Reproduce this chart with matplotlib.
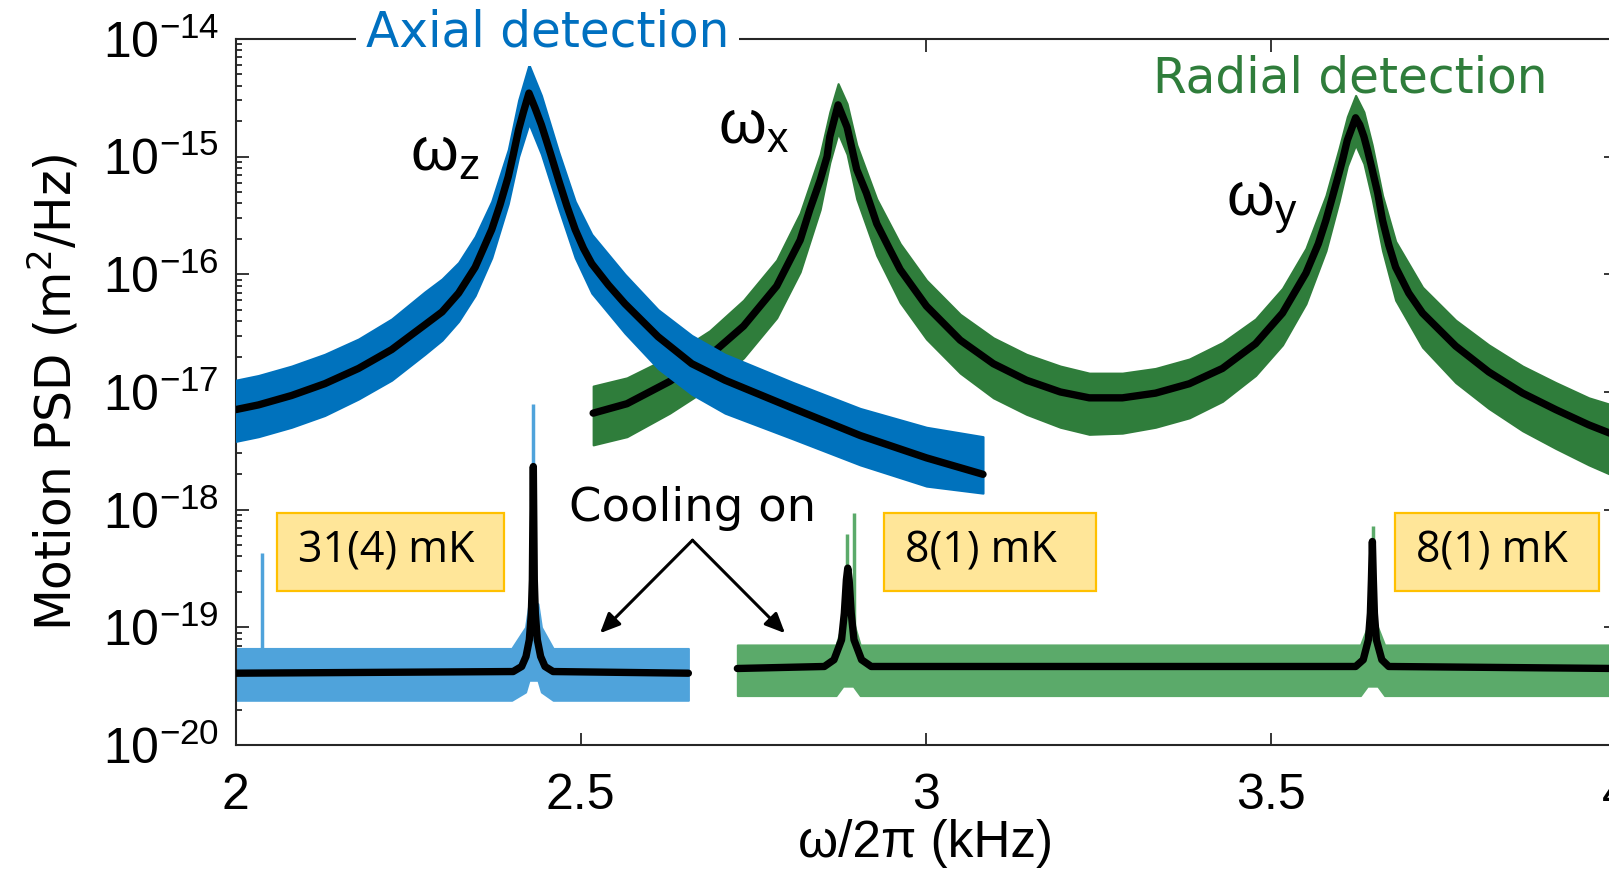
import numpy as np
import matplotlib.pyplot as plt
from matplotlib.patches import Rectangle
from matplotlib.ticker import LogLocator, NullFormatter

plt.rcParams['font.family'] = ['Liberation Sans', 'DejaVu Sans']
plt.rcParams['mathtext.default'] = 'regular'

# frequencies in kHz, PSD values stored as log10(m^2/Hz)

# axial detection, cooling off: fit line and measured band
axial_fit_f = [2.000, 2.033, 2.081, 2.129, 2.178, 2.226, 2.274, 2.299, 2.323, 2.347, 2.371, 2.383,
               2.395, 2.402, 2.410, 2.417, 2.425, 2.434, 2.443, 2.456, 2.468, 2.480, 2.492, 2.504,
               2.516, 2.540, 2.564, 2.612, 2.661, 2.709, 2.808, 2.905, 3.001, 3.083]
axial_fit = [-17.15, -17.11, -17.03, -16.93, -16.80, -16.64, -16.43, -16.32, -16.16, -15.94, -15.62, -15.41,
             -15.17, -14.99, -14.77, -14.62, -14.46, -14.59, -14.73, -14.97, -15.20, -15.42, -15.62, -15.78,
             -15.91, -16.09, -16.25, -16.53, -16.76, -16.90, -17.14, -17.37, -17.56, -17.70]
axial_f = [2.000, 2.033, 2.081, 2.129, 2.178, 2.226, 2.274, 2.299, 2.323, 2.347, 2.371, 2.395, 2.410,
           2.425, 2.443, 2.468, 2.492, 2.516, 2.564, 2.612, 2.661, 2.709, 2.808, 2.905, 3.001, 3.083]
axial_hi = [-16.90, -16.86, -16.78, -16.68, -16.55, -16.38, -16.15, -16.04, -15.90, -15.68, -15.38, -14.94, -14.52,
            -14.22, -14.48, -14.96, -15.38, -15.66, -16.00, -16.30, -16.52, -16.68, -16.92, -17.14, -17.30, -17.38]
axial_lo = [-17.42, -17.38, -17.30, -17.20, -17.06, -16.90, -16.68, -16.56, -16.40, -16.18, -15.86, -15.40, -15.00,
            -14.72, -14.98, -15.44, -15.86, -16.16, -16.50, -16.80, -17.02, -17.18, -17.40, -17.62, -17.80, -17.86]

# radial detection, cooling off
radial_fit_f = [2.518, 2.567, 2.629, 2.687, 2.736, 2.784, 2.818, 2.832, 2.847, 2.857, 2.861, 2.873, 2.886,
                2.900, 2.914, 2.929, 2.948, 2.963, 3.001, 3.050, 3.098, 3.146, 3.195, 3.237, 3.285, 3.333,
                3.382, 3.430, 3.478, 3.517, 3.551, 3.569, 3.580, 3.599, 3.604, 3.611, 3.618, 3.623, 3.629,
                3.635, 3.640, 3.647, 3.655, 3.662, 3.671, 3.681, 3.700, 3.720, 3.768, 3.816, 3.865, 3.913,
                3.961, 4.000]
radial_fit = [-17.18, -17.10, -16.91, -16.69, -16.44, -16.10, -15.71, -15.45, -15.20, -15.00, -14.83, -14.56, -14.75,
              -15.11, -15.31, -15.57, -15.79, -15.96, -16.27, -16.56, -16.76, -16.90, -17.00, -17.05, -17.05, -17.01,
              -16.93, -16.80, -16.59, -16.33, -15.99, -15.74, -15.54, -15.14, -15.03, -14.86, -14.75, -14.67, -14.73,
              -14.83, -14.94, -15.11, -15.31, -15.54, -15.75, -15.94, -16.16, -16.33, -16.61, -16.83, -17.01, -17.15,
              -17.28, -17.37]
radial_f = [2.518, 2.567, 2.629, 2.687, 2.736, 2.784, 2.818, 2.847, 2.861, 2.873, 2.886, 2.900, 2.929, 2.963,
            3.001, 3.050, 3.098, 3.146, 3.195, 3.237, 3.285, 3.333, 3.382, 3.430, 3.478, 3.517, 3.551, 3.580,
            3.599, 3.611, 3.623, 3.635, 3.647, 3.662, 3.681, 3.720, 3.768, 3.816, 3.865, 3.913, 3.961, 4.000]
radial_hi = [-16.95, -16.88, -16.70, -16.48, -16.22, -15.88, -15.48, -14.98, -14.62, -14.38, -14.55, -14.90, -15.36, -15.74,
             -16.05, -16.34, -16.54, -16.68, -16.78, -16.84, -16.84, -16.80, -16.72, -16.58, -16.38, -16.12, -15.78, -15.33,
             -14.93, -14.66, -14.48, -14.62, -14.90, -15.33, -15.72, -16.11, -16.39, -16.60, -16.78, -16.92, -17.05, -17.12]
radial_lo = [-17.45, -17.38, -17.18, -16.96, -16.71, -16.37, -15.98, -15.45, -15.05, -14.80, -14.98, -15.36, -15.84, -16.24,
             -16.55, -16.84, -17.05, -17.19, -17.30, -17.36, -17.35, -17.30, -17.22, -17.08, -16.86, -16.60, -16.25, -15.80,
             -15.38, -15.08, -14.90, -15.06, -15.36, -15.80, -16.22, -16.62, -16.92, -17.14, -17.33, -17.48, -17.62, -17.72]

# axial detection, cooling on
axial_cool_f = [2.000, 2.402, 2.4144, 2.4207, 2.4255, 2.4284, 2.4299, 2.4313,
                2.4327, 2.4342, 2.4371, 2.4419, 2.4482, 2.460, 2.656]
axial_cool_fit = [-19.39, -19.376, -19.333, -19.248, -19.106, -18.880, -18.596, -17.634,
                  -18.596, -18.880, -19.106, -19.248, -19.333, -19.376, -19.39]
axial_cool_band_f = [2.000, 2.400, 2.420, 2.425, 2.438, 2.443, 2.460, 2.656]
axial_cool_hi = [-19.18, -19.18, -19.00, -18.80, -18.80, -19.00, -19.18, -19.18]
axial_cool_lo = [-19.62, -19.62, -19.55, -19.45, -19.45, -19.55, -19.62, -19.62]
axial_cool_spike_f = [2.038, 2.4313]
axial_cool_spike_top = [-18.37, -17.10]

# radial detection, cooling on
radial_cool_f = [2.727, 2.853, 2.867, 2.878, 2.882, 2.885, 2.887, 2.889, 2.892, 2.896, 2.907, 2.921,
                 3.623, 3.634, 3.6415, 3.6444, 3.6459, 3.6473, 3.6487, 3.6502, 3.6531, 3.661, 3.671, 4.000]
radial_cool_fit = [-19.35, -19.333, -19.276, -19.106, -18.880, -18.596, -18.497, -18.596, -18.880, -19.106, -19.276, -19.333,
                   -19.333, -19.276, -19.106, -18.880, -18.596, -18.271, -18.596, -18.880, -19.106, -19.276, -19.333, -19.35]
radial_cool_band_f = [2.727, 2.870, 2.880, 2.895, 2.905, 3.630, 3.640, 3.655, 3.665, 4.000]
radial_cool_hi = [-19.15, -19.15, -18.95, -18.95, -19.15, -19.15, -19.00, -19.00, -19.15, -19.15]
radial_cool_lo = [-19.58, -19.58, -19.50, -19.50, -19.58, -19.58, -19.50, -19.50, -19.58, -19.58]
radial_cool_spike_f = [2.886, 2.896, 3.648]
radial_cool_spike_top = [-18.21, -18.03, -18.14]

temps = ["31(4) mK", "8(1) mK", "8(1) mK"]
yticks_exp = [-20, -19, -18, -17, -16, -15, -14]
xticks = [2, 2.5, 3, 3.5, 4]
xtick_labels = ["2", "2.5", "3", "3.5", "4"]

c_axial = '#0072BD'
c_axial_cool = '#4FA3DB'
c_radial = '#2F7D3B'
c_radial_cool = '#5BAA6A'


def p(v):
    return np.power(10.0, np.array(v))


fig = plt.figure(figsize=(16.09, 8.75), dpi=100)
ax = fig.add_axes([0.1465, 0.1486, 0.8577, 0.8069])

# cooling off: radial first, axial on top
ax.fill_between(radial_f, p(radial_lo), p(radial_hi), color=c_radial, lw=1.5, edgecolor=c_radial, zorder=2)
ax.plot(radial_fit_f, p(radial_fit), color='k', lw=5.3, solid_capstyle='round', zorder=3)
ax.fill_between(axial_f, p(axial_lo), p(axial_hi), color=c_axial, lw=1.5, edgecolor=c_axial, zorder=4)
ax.plot(axial_fit_f, p(axial_fit), color='k', lw=5.3, solid_capstyle='round', zorder=5)

# cooling on
ax.fill_between(axial_cool_band_f, p(axial_cool_lo), p(axial_cool_hi), color=c_axial_cool, lw=1.5,
                edgecolor=c_axial_cool, zorder=2)
ax.vlines(axial_cool_spike_f, 10 ** -19.4, p(axial_cool_spike_top), color=c_axial_cool, lw=2.5, zorder=2)
ax.plot(axial_cool_f, p(axial_cool_fit), color='k', lw=5.3, solid_capstyle='round', zorder=3)

ax.fill_between(radial_cool_band_f, p(radial_cool_lo), p(radial_cool_hi), color=c_radial_cool, lw=1.5,
                edgecolor=c_radial_cool, zorder=2)
ax.vlines(radial_cool_spike_f, 10 ** -19.4, p(radial_cool_spike_top), color=c_radial_cool, lw=2.5, zorder=2)
ax.plot(radial_cool_f, p(radial_cool_fit), color='k', lw=5.3, solid_capstyle='round', zorder=3)

ax.set_xlim(2, 4)
ax.set_yscale('log')
ax.set_ylim(1e-20, 1e-14)
ax.set_xticks(xticks)
ax.set_xticklabels(xtick_labels)
ax.set_xticks([], minor=True)
ax.set_yticks([10.0 ** e for e in yticks_exp])
ax.set_yticklabels(['$10^{%d}$' % e for e in yticks_exp])
ax.yaxis.set_minor_locator(LogLocator(base=10, subs=np.arange(2, 10)))
ax.yaxis.set_minor_formatter(NullFormatter())

for s in ax.spines.values():
    s.set_linewidth(1.5)
    s.set_color('#262626')
ax.tick_params(which='both', direction='in', top=True, right=True, color='#262626', width=1.3)
ax.tick_params(which='major', length=9)
ax.tick_params(which='minor', length=4.5)
ax.tick_params(axis='x', labelsize=36, pad=20)
ax.tick_params(axis='y', labelsize=36, pad=12)

ax.set_xlabel('ω/2π (kHz)', fontsize=37)
ax.xaxis.set_label_coords(0.5, -0.105)
ax.set_ylabel('Motion PSD (m$^2$/Hz)', fontsize=35, family='DejaVu Sans')
ax.yaxis.set_label_coords(-0.112, 0.5)

# detection titles
ax.text(0.2259, 0.989, 'Axial detection', transform=ax.transAxes, ha='center', va='baseline',
        fontsize=35, family='DejaVu Sans', color='#0070C0', zorder=10, clip_on=False,
        bbox=dict(boxstyle='square,pad=0.2', fc='white', ec='none'))
ax.text(0.8078, 0.9235, 'Radial detection', transform=ax.transAxes, ha='center', va='baseline',
        fontsize=35, family='DejaVu Sans', color='#2F7D3B', zorder=10)

# mode labels
ax.text(0.1263, 0.8144, '$ω_z$', transform=ax.transAxes, fontsize=44, va='baseline', zorder=10)
ax.text(0.3495, 0.852, '$ω_x$', transform=ax.transAxes, fontsize=44, va='baseline', zorder=10)
ax.text(0.7176, 0.7507, '$ω_y$', transform=ax.transAxes, fontsize=44, va='baseline', zorder=10)

# cooling arrows
ax.text(0.3313, 0.3173, 'Cooling on', transform=ax.transAxes, ha='center', va='baseline',
        fontsize=33.5, family='DejaVu Sans', zorder=10)
arrow = dict(arrowstyle='-|>,head_length=0.6,head_width=0.27', mutation_scale=20, lw=2.2,
             color='k', shrinkA=0, shrinkB=0)
ax.annotate('', xy=(2.528, 10 ** -19.05), xytext=(2.662, 10 ** -18.26), arrowprops=arrow, zorder=10)
ax.annotate('', xy=(2.796, 10 ** -19.05), xytext=(2.662, 10 ** -18.26), arrowprops=arrow, zorder=10)

# temperature boxes
box_x = [0.0297, 0.470, 0.840]
box_w = [0.165, 0.1534, 0.148]
text_x = [0.0451, 0.485, 0.855]
for bx, bw, tx, t in zip(box_x, box_w, text_x, temps):
    ax.add_patch(Rectangle((bx, 0.2186), bw, 0.1105, transform=ax.transAxes, fc='#FFE699',
                           ec='#FFC000', lw=1.6, zorder=8))
    ax.text(tx, 0.274, t, transform=ax.transAxes, va='center', ha='left', fontsize=31,
            family='Open Sans', zorder=9)

fig.savefig('out.png', dpi=100, facecolor='white')
